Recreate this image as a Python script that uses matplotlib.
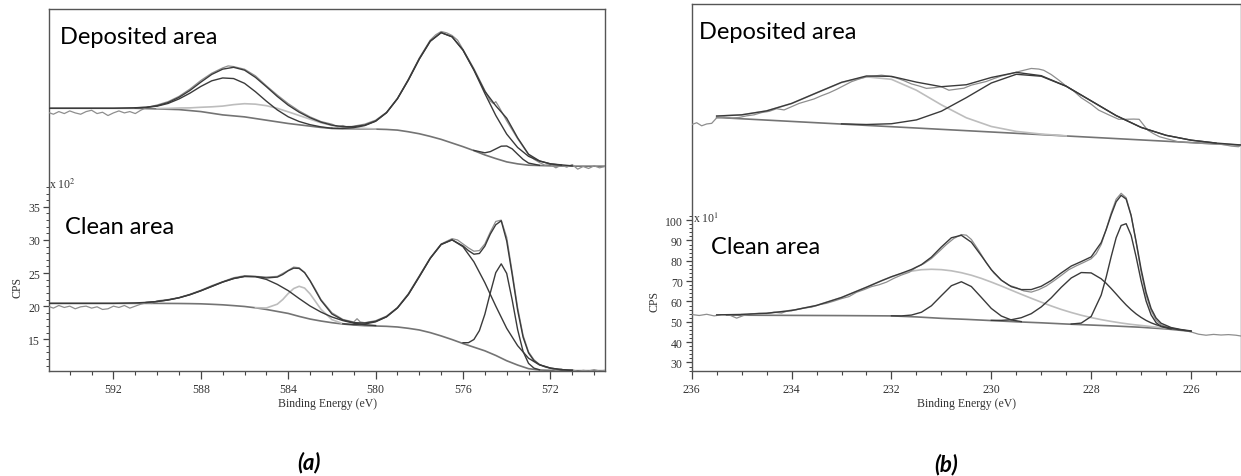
import matplotlib.pyplot as plt
from matplotlib.ticker import FixedLocator, NullFormatter

plt.rcParams['font.family'] = ['Liberation Serif', 'DejaVu Serif']
plt.rcParams['mathtext.fontset'] = 'stix'

# ---------------- panel (a): Ti 2p-like region, CPS x 10^2 ----------------
# deposited area (upper spectrum)
a_grid = [595, 594, 593, 592, 591, 590.5, 590, 589.5, 589, 588.5, 588, 587.5, 587, 586.5, 586,
          585.5, 585, 584.5, 584, 583.5, 583, 582.5, 582, 581.5, 581, 580.5, 580, 579.5, 579, 578.5,
          578, 577.5, 577, 576.5, 576, 575.5, 575, 574.5, 574, 573.5, 573, 572.5, 572, 571, 570, 569.5]
a_dep_bg = [49.9, 49.9, 49.9, 49.9, 49.9, 49.85, 49.8, 49.75, 49.7, 49.55, 49.4, 49.15, 48.9, 48.75, 48.6,
            48.35, 48.1, 47.85, 47.6, 47.4, 47.2, 47.0, 46.85, 46.8, 46.8, 46.78, 46.75, 46.7, 46.6, 46.35,
            46.05, 45.65, 45.2, 44.65, 44.1, 43.5, 42.85, 42.3, 41.8, 41.5, 41.3, 41.25, 41.2, 41.15, 41.15, 41.15]
a_dep_env = [49.9, 49.9, 49.9, 49.9, 49.98, 50.06, 50.28, 50.76, 51.55, 52.59, 53.85, 55.02, 55.81, 56.09, 55.66,
             54.57, 53.16, 51.69, 50.37, 49.31, 48.47, 47.80, 47.35, 47.12, 47.13, 47.35, 47.97, 49.23, 51.35, 54.18,
             57.35, 60.03, 61.33, 60.70, 58.69, 55.70, 52.46, 50.28, 48.40, 45.44, 42.96, 41.95, 41.50, 41.2]
a_dep_p1_x = [591, 590.5, 590, 589.5, 589, 588.5, 588, 587.5, 587, 586.5, 586, 585.5, 585, 584.5, 584,
              583.5, 583, 582.5, 582]
a_dep_p1 = [49.97, 50.03, 50.22, 50.63, 51.31, 52.18, 53.2, 54.05, 54.48, 54.39, 53.67, 52.4, 50.97, 49.65, 48.61,
            47.9, 47.42, 47.09, 46.88]
a_dep_p2_x = [590, 589.5, 589, 588.5, 588, 587.5, 587, 586.5, 586, 585.5, 585, 584.5, 584, 583.5, 583,
              582.5, 582, 581.5, 581, 580.5, 580]
a_dep_p2 = [49.86, 49.88, 49.94, 49.96, 50.05, 50.12, 50.23, 50.45, 50.59, 50.52, 50.29, 49.89, 49.36, 48.81, 48.25,
            47.71, 47.3, 47.06, 46.95, 46.85, 46.78]
a_dep_p3_x = [582, 581.5, 581, 580.5, 580, 579.5, 579, 578.5, 578, 577.5, 577, 576.5, 576, 575.5, 575,
              574.5, 574, 573.5, 573, 572.5, 572, 571.5]
a_dep_p3 = [46.87, 46.86, 46.98, 47.28, 47.94, 49.23, 51.35, 54.18, 57.35, 60.03, 61.33, 60.70, 58.69, 55.67, 52.14,
            48.82, 46.00, 43.98, 42.64, 41.92, 41.50, 41.30]
a_dep_p4_x = [575.5, 575, 574.75, 574.5, 574.25, 574, 573.75, 573.5, 573.25, 573, 572.5]
a_dep_p4 = [43.53, 43.17, 43.35, 43.76, 44.17, 44.2, 43.77, 42.96, 42.18, 41.62, 41.28]
a_dep_raw_x = [595.0, 594.75, 594.5, 594.25, 594.0, 593.75, 593.5, 593.25, 593.0, 592.75, 592.5, 592.25, 592.0,
               591.75, 591.5, 591.25, 591.0, 590.75, 590.5, 590.25, 590.0, 589.5, 589.0, 588.5, 588.0, 587.5,
               587.0, 586.75, 586.5, 586.25, 586.0, 585.5, 585.0, 584.5, 584.0, 583.5, 583.0, 582.5, 582.0,
               581.75, 581.5, 581.25, 581.0, 580.5, 580.0, 579.5, 579.0, 578.5, 578.0, 577.5, 577.25, 577.0,
               576.75, 576.5, 576.25, 576.0, 575.5, 575.0, 574.75, 574.6, 574.5, 574.35, 574.0, 573.5, 573.0,
               572.75, 572.5, 572.25, 572.0, 571.75, 571.5, 571.25, 571.0, 570.75, 570.5, 570.25, 570.0,
               569.75, 569.5]
a_dep_raw = [49.3, 49.0, 49.4, 49.1, 49.5, 49.2, 49.0, 49.4, 49.6, 49.1, 49.3, 48.8, 49.2,
             49.5, 49.2, 49.4, 49.1, 49.6, 50.0, 50.2, 50.4, 50.9, 51.7, 52.8, 54.1, 55.2,
             56.0, 56.3, 56.2, 56.0, 55.8, 54.8, 53.3, 51.9, 50.6, 49.5, 48.6, 47.9, 47.5,
             47.1, 47.3, 47.0, 47.2, 47.5, 48.1, 49.3, 51.4, 54.3, 57.5, 60.2, 61.0, 61.5,
             61.3, 60.9, 60.2, 58.8, 55.9, 52.6, 51.0, 50.6, 50.9, 50.1, 48.0, 45.3, 42.9,
             42.2, 41.7, 41.3, 41.4, 40.9, 41.3, 41.0, 41.4, 40.7, 41.1, 40.8, 41.2,
             40.9, 41.1]

# clean area (lower spectrum)
a_cln_bg = [20.42, 20.42, 20.42, 20.42, 20.42, 20.42, 20.42, 20.41, 20.4, 20.38, 20.35, 20.28, 20.2, 20.08, 19.95,
            19.75, 19.5, 19.2, 18.9, 18.45, 18.05, 17.75, 17.5, 17.3, 17.15, 17.05, 17.0, 16.95, 16.85, 16.65,
            16.4, 16.0, 15.5, 14.95, 14.35, 13.8, 13.25, 12.55, 11.75, 11.1, 10.55, 10.35, 10.3, 10.25, 10.25, 10.25]
a_cln_env_x = [595, 594, 593, 592, 591, 590.5, 590, 589.5, 589, 588.5, 588, 587.5, 587, 586.5, 586,
               585.5, 585, 584.5, 584.25, 584, 583.75, 583.5, 583.25, 583, 582.75, 582.5, 582, 581.5, 581, 580.5,
               580, 579.5, 579, 578.5, 578, 577.5, 577, 576.5, 576, 575.75, 575.5, 575.25, 575, 574.75, 574.5,
               574.25, 574, 573.75, 573.5, 573.25, 573, 572.75, 572.5, 572, 571.5, 571]
a_cln_env = [20.42, 20.42, 20.42, 20.42, 20.49, 20.57, 20.70, 20.93, 21.26, 21.73, 22.32, 22.98, 23.64, 24.17, 24.49,
             24.47, 24.26, 24.39, 24.78, 25.35, 25.74, 25.70, 25.06, 23.82, 22.34, 20.87, 18.82, 17.91, 17.51, 17.45,
             17.70, 18.41, 19.73, 21.77, 24.46, 27.22, 29.32, 30.02, 29.10, 28.39, 27.85, 27.96, 29.07, 30.89, 32.3,
             32.9, 29.85, 24.80, 19.40, 15.32, 12.93, 11.75, 11.16, 10.64, 10.41, 10.30]
a_cln_p1_x = [590.5, 590, 589.5, 589, 588.5, 588, 587.5, 587, 586.5, 586, 585.5, 585, 584.5, 584, 583.5,
              583, 582.5, 582, 581.5, 581, 580.5, 580]
a_cln_p1 = [20.57, 20.70, 20.93, 21.26, 21.73, 22.32, 22.98, 23.64, 24.17, 24.49, 24.45, 24.04, 23.29, 22.34, 21.15,
            20.02, 19.10, 18.36, 17.82, 17.43, 17.20, 17.07]
a_cln_p2_x = [585.5, 585, 584.5, 584.25, 584, 583.75, 583.5, 583.25, 583, 582.75, 582.5, 582, 581.5]
a_cln_p2 = [19.77, 19.72, 20.30, 21.0, 21.91, 22.66, 23.0, 22.73, 21.85, 20.69, 19.52, 17.96, 17.36]
a_cln_p3_x = [581.5, 581, 580.5, 580, 579.5, 579, 578.5, 578, 577.5, 577, 576.5, 576, 575.5, 575, 574.5,
              574, 573.5, 573, 572.5, 572, 571.5, 571]
a_cln_p3 = [17.33, 17.23, 17.30, 17.63, 18.38, 19.73, 21.77, 24.46, 27.22, 29.32, 30.02, 28.98, 26.69, 23.55, 20.01,
            16.65, 14.03, 12.13, 11.12, 10.64, 10.41, 10.30]
a_cln_p4_x = [576, 575.75, 575.5, 575.25, 575, 574.75, 574.5, 574.25, 574, 573.75, 573.5, 573.25, 573, 572.75, 572.5]
a_cln_p4 = [14.47, 14.48, 14.96, 16.30, 18.77, 22.01, 25.06, 26.39, 24.95, 20.96, 16.47, 13.15, 11.35, 10.63, 10.39]
a_cln_raw_x = [595.0, 594.75, 594.5, 594.25, 594.0, 593.75, 593.5, 593.25, 593.0, 592.75, 592.5, 592.25, 592.0,
               591.75, 591.5, 591.25, 591.0, 590.75, 590.5, 590.25, 590.0, 589.5, 589.0, 588.5, 588.0, 587.5,
               587.0, 586.5, 586.0, 585.5, 585.0, 584.5, 584.0, 583.75, 583.5, 583.25, 583.0, 582.75, 582.5,
               582.0, 581.5, 581.25, 581.0, 580.85, 580.7, 580.5, 580.0, 579.5, 579.0, 578.5, 578.0, 577.5,
               577.0, 576.5, 576.25, 576.0, 575.75, 575.5, 575.25, 575.0, 574.75, 574.5, 574.25, 574.0, 573.75,
               573.5, 573.25, 573.0, 572.75, 572.5, 572.25, 572.0, 571.75, 571.5, 571.25, 571.0, 570.75, 570.5,
               570.25, 570.0, 569.75, 569.5]
a_cln_raw = [20.0, 19.7, 20.1, 19.8, 20.0, 19.6, 19.9, 20.0, 19.7, 19.9, 19.5, 19.6, 20.0,
             19.8, 20.1, 19.7, 20.0, 20.3, 20.5, 20.4, 20.8, 21.0, 21.3, 21.8, 22.4, 23.1,
             23.7, 24.3, 24.6, 24.5, 24.4, 24.5, 25.4, 25.9, 25.8, 25.1, 23.9, 22.5, 21.0,
             19.0, 18.0, 17.8, 17.6, 18.1, 17.6, 17.5, 17.8, 18.5, 19.8, 21.9, 24.6, 27.3,
             29.4, 30.2, 30.0, 29.4, 28.8, 28.3, 28.4, 29.4, 31.2, 32.8, 33.0, 30.4, 25.2,
             19.8, 15.6, 13.1, 11.9, 11.2, 10.8, 10.6, 10.3, 10.5, 10.2, 10.4, 10.1, 10.3,
             10.2, 10.4, 10.2, 10.3]

# ---------------- panel (b): CPS x 10^1 ----------------
b_dep_bg_x = [235.5, 225.0]
b_dep_bg = [150.5, 136.85]
b_dep_env_x = [235.5, 235, 234.5, 234, 233.5, 233, 232.5, 232, 231.5, 231, 230.5, 230, 229.5, 229, 228.5,
               228, 227.5, 227, 226.5, 226, 225.5, 225]
b_dep_env = [151.19, 151.78, 153.73, 157.38, 162.60, 167.77, 170.90, 170.71, 167.88, 165.63, 166.59, 170.16,
             172.67, 171.04, 165.88, 158.64, 151.41, 145.61, 141.72, 139.33, 137.91, 136.97]
b_dep_p1_x = [235.5, 235, 234.5, 234, 233.5, 233, 232.5, 232, 231.5, 231, 230.5, 230, 229.5, 229, 228.5]
b_dep_p1 = [151.19, 151.78, 153.73, 157.38, 162.58, 167.67, 170.47, 169.25, 163.89, 156.70, 150.34, 146.06,
            143.64, 142.32, 141.46]
b_dep_p2_x = [233, 232.5, 232, 231.5, 231, 230.5, 230, 229.5, 229, 228.5, 228, 227.5, 227, 226.5, 226, 225.5]
b_dep_p2 = [147.35, 147.03, 147.41, 149.29, 153.58, 160.25, 167.45, 171.73, 170.77, 165.82, 158.64, 151.41,
            145.61, 141.72, 139.33, 137.91]
b_dep_raw_x = [236.0, 235.9, 235.8, 235.7, 235.6, 235.5, 235.35, 235.2, 235.05, 234.9, 234.75, 234.6, 234.45,
               234.3, 234.15, 234.0, 233.85, 233.7, 233.55, 233.4, 233.25, 233.1, 232.95, 232.8, 232.65, 232.5,
               232.35, 232.2, 232.05, 231.9, 231.75, 231.6, 231.45, 231.3, 231.15, 231.0, 230.85, 230.7, 230.55,
               230.4, 230.25, 230.1, 229.95, 229.8, 229.6, 229.4, 229.2, 229.05, 228.95, 228.8, 228.65, 228.5,
               228.35, 228.2, 228.0, 227.85, 227.65, 227.45, 227.3, 227.15, 227.04, 226.87, 226.75, 226.63,
               226.45, 226.25, 226.05, 225.85, 225.65, 225.43, 225.3, 225.19, 225.05, 224.95]
b_dep_raw = [147.0, 147.9, 146.4, 147.3, 147.6, 150.3, 150.6, 150.2, 150.5, 151.3, 151.8, 152.9, 153.5,
             154.8, 154.2, 155.8, 157.4, 158.5, 159.6, 161.2, 162.6, 164.3, 166.2, 168.1, 169.4, 170.5,
             170.9, 171.3, 170.8, 169.9, 168.6, 167.0, 166.0, 164.8, 165.1, 165.6, 163.9, 164.4, 164.9,
             166.4, 167.3, 168.2, 169.6, 170.9, 172.1, 173.4, 174.6, 174.3, 173.7, 171.6, 168.9, 165.9,
             163.5, 160.2, 157.0, 154.1, 151.8, 149.6, 149.6, 149.7, 149.6, 144.3, 142.5, 141.0,
             139.8, 138.5, 138.2, 137.8, 137.6, 137.4, 136.9, 136.4, 136.1, 137.5]

b_cln_bg_x = [235.3, 235, 234, 233, 232, 231.5, 231, 230.5, 230, 229.5, 229, 228.5, 228, 227.5, 227, 226.5, 226]
b_cln_bg = [53.3, 53.25, 53.15, 53.05, 52.9, 52.4, 51.7, 51.2, 50.6, 50.0, 49.5, 48.9, 48.4, 47.9, 47.3, 46.5, 45.3]
b_cln_env_x = [235.5, 235, 234.5, 234, 233.5, 233, 232.5, 232.2, 232.0, 231.8, 231.6, 231.4, 231.2, 231.0, 230.8,
               230.6, 230.4, 230.2, 230.0, 229.8, 229.6, 229.4, 229.2, 229.0, 228.8, 228.6, 228.4, 228.2, 228.0,
               227.8, 227.7, 227.6, 227.5, 227.4, 227.3, 227.2, 227.1, 227.0, 226.9, 226.8, 226.7, 226.6, 226.4,
               226.2, 226.0]
b_cln_env = [53.42, 53.62, 54.2, 55.53, 58.04, 61.96, 67.01, 70.18, 72.16, 73.88, 75.72, 78.11, 81.80, 86.81, 91.32,
             92.55, 89.15, 82.51, 75.62, 70.46, 67.28, 65.84, 65.85, 67.47, 70.31, 74.03, 77.41, 79.61, 81.94,
             88.94, 95.31, 102.6, 109.03, 112.18, 110.37, 102.17, 89.43, 75.84, 64.44, 56.52, 51.82, 49.29, 47.18,
             46.19, 45.51]
b_cln_p1_x = [235, 234.5, 234, 233.5, 233, 232.5, 232.2, 232.0, 231.8, 231.6, 231.4, 231.2, 231.0, 230.8, 230.6,
              230.4, 230.2, 230.0, 229.8, 229.6, 229.4, 229.2, 229.0, 228.8, 228.6, 228.4, 228.2, 228.0, 227.8,
              227.6, 227.4, 227.2, 227.0, 226.8, 226.6, 226.4]
b_cln_p1 = [53.62, 54.2, 55.53, 58.04, 61.96, 67.01, 70.18, 72.12, 73.68, 74.91, 75.62, 75.83, 75.65, 75.08, 74.15,
            72.91, 71.35, 69.53, 67.61, 65.56, 63.53, 61.56, 59.65, 57.79, 56.08, 54.58, 53.23, 52.07, 51.06,
            50.19, 49.41, 48.73, 48.2, 47.65, 47.16, 46.62]
b_cln_p2_x = [232.0, 231.8, 231.6, 231.4, 231.2, 231.0, 230.8, 230.6, 230.4, 230.2, 230.0, 229.8, 229.6, 229.4]
b_cln_p2 = [52.94, 52.9, 53.31, 54.69, 57.87, 62.86, 67.74, 69.7, 67.34, 62.01, 56.57, 52.84, 50.91, 50.1]
b_cln_p3_x = [230.0, 229.8, 229.6, 229.4, 229.2, 229.0, 228.8, 228.6, 228.4, 228.2, 228.0, 227.8, 227.7, 227.6,
              227.5, 227.4, 227.3, 227.2, 227.1, 227.0, 226.9, 226.8, 226.7, 226.6, 226.4, 226.2, 226.0]
b_cln_p3 = [50.72, 50.71, 51.01, 52.01, 53.99, 57.32, 61.77, 66.95, 71.54, 74.22, 74.04, 71.15, 68.93, 66.38,
            63.67, 60.9, 58.29, 55.94, 53.88, 52.14, 50.67, 49.49, 48.56, 47.84, 46.77, 45.97, 45.36]
b_cln_p4_x = [228.4, 228.2, 228.0, 227.8, 227.7, 227.6, 227.5, 227.4, 227.3, 227.2, 227.1, 227.0, 226.9, 226.8,
              226.7, 226.6, 226.4]
b_cln_p4 = [48.89, 49.36, 52.63, 63.13, 71.96, 82.03, 91.35, 97.37, 98.25, 92.5, 81.9, 70.1, 60.15, 53.38,
            49.56, 47.69, 46.39]
b_cln_raw_x = [236.0, 235.85, 235.7, 235.55, 235.4, 235.25, 235.1, 234.95, 234.8, 234.65, 234.5, 234.35, 234.2,
               234.05, 233.9, 233.75, 233.6, 233.45, 233.3, 233.15, 233.0, 232.85, 232.7, 232.55, 232.4, 232.25,
               232.1, 231.95, 231.8, 231.65, 231.5, 231.35, 231.2, 231.05, 230.9, 230.75, 230.6, 230.5, 230.4,
               230.25, 230.1, 229.95, 229.8, 229.65, 229.5, 229.35, 229.2, 229.05, 228.9, 228.75, 228.6, 228.45,
               228.3, 228.15, 228.0, 227.9, 227.8, 227.7, 227.6, 227.5, 227.4, 227.3, 227.2, 227.1, 227.0, 226.9,
               226.8, 226.7, 226.6, 226.45, 226.3, 226.15, 226.0, 225.85, 225.7, 225.55, 225.4, 225.25, 225.1,
               225.0]
b_cln_raw = [53.6, 53.1, 53.7, 52.9, 53.5, 53.4, 51.8, 53.2, 53.9, 54.2, 54.0, 54.7, 54.3,
             55.6, 56.0, 56.8, 57.2, 58.4, 59.1, 60.2, 61.4, 62.4, 64.5, 65.8, 67.3, 68.2,
             69.5, 71.4, 73.0, 74.3, 76.8, 78.6, 81.1, 84.5, 88.0, 91.0, 92.9, 92.6, 90.5,
             85.0, 79.0, 74.0, 70.5, 68.0, 66.8, 65.2, 64.6, 65.8, 67.6, 70.1, 72.8, 75.6,
             77.5, 79.2, 81.0, 83.5, 88.0, 95.5, 103.5, 110.3, 113.2, 111.0, 102.5, 89.0, 74.5, 63.0,
             55.5, 50.8, 48.5, 47.2, 46.5, 45.8, 45.0, 43.9, 43.4, 43.8, 43.5, 43.7, 43.4,
             43.0]

# ---------------- drawing ----------------
DARK = '#3a3a3a'
RAW = '#8e8e8e'
LIGHT = '#bdbdbd'
BG = '#747474'
LABEL_FONT = ['Lato', 'DejaVu Sans']

fig = plt.figure(figsize=(12.41, 4.77), dpi=100)
fig.patch.set_facecolor('white')
ax1 = fig.add_axes([49 / 1241, 105 / 477, 556 / 1241, 362 / 477])
ax2 = fig.add_axes([691.7 / 1241, 105 / 477, 549.3 / 1241, 367 / 477])


def style(ax, xmaj, xmin, ymaj, ymin):
    for s in ax.spines.values():
        s.set_color('#555555')
        s.set_linewidth(1.0)
    ax.xaxis.set_major_locator(FixedLocator(xmaj))
    ax.xaxis.set_minor_locator(FixedLocator(xmin))
    ax.yaxis.set_major_locator(FixedLocator(ymaj))
    ax.yaxis.set_minor_locator(FixedLocator(ymin))
    ax.xaxis.set_minor_formatter(NullFormatter())
    ax.tick_params(axis='x', which='major', direction='out', length=6, width=0.9, color='#444444',
                   labelsize=8.5, labelcolor='#333333', pad=3)
    ax.tick_params(axis='x', which='minor', direction='out', length=3, width=0.8, color='#444444')
    ax.tick_params(axis='y', which='major', direction='out', length=4.5, width=0.9, color='#444444',
                   labelsize=8.5, labelcolor='#333333', pad=2)
    ax.tick_params(axis='y', which='minor', direction='out', length=2.2, width=0.7, color='#444444')
    ax.set_xlabel('Binding Energy (eV)', fontsize=8.5, color='#333333', labelpad=1)


# panel (a)
ax = ax1
ax.plot(a_grid, a_dep_bg, color=BG, lw=1.2, zorder=2)
ax.plot(a_dep_p2_x, a_dep_p2, color=LIGHT, lw=1.2, zorder=2)
ax.plot(a_dep_raw_x, a_dep_raw, color=RAW, lw=0.9, zorder=3)
ax.plot(a_grid[:44], a_dep_env, color=DARK, lw=1.0, zorder=4)
ax.plot(a_dep_p1_x, a_dep_p1, color=DARK, lw=1.0, zorder=4)
ax.plot(a_dep_p3_x, a_dep_p3, color=DARK, lw=1.0, zorder=4)
ax.plot(a_dep_p4_x, a_dep_p4, color=DARK, lw=1.0, zorder=4)

ax.plot(a_grid, a_cln_bg, color=BG, lw=1.2, zorder=2)
ax.plot(a_cln_p2_x, a_cln_p2, color=LIGHT, lw=1.2, zorder=2)
ax.plot(a_cln_raw_x, a_cln_raw, color=RAW, lw=0.9, zorder=3)
ax.plot(a_cln_env_x, a_cln_env, color=DARK, lw=1.0, zorder=4)
ax.plot(a_cln_p1_x, a_cln_p1, color=DARK, lw=1.0, zorder=4)
ax.plot(a_cln_p3_x, a_cln_p3, color=DARK, lw=1.0, zorder=4)
ax.plot(a_cln_p4_x, a_cln_p4, color=DARK, lw=1.0, zorder=4)

ax.set_xlim(594.95, 569.5)
ax.set_ylim(10.2, 64.9)
style(ax, [592, 588, 584, 580, 576, 572], [v for v in range(570, 595) if v % 4 != 0],
      [15, 20, 25, 30, 35], [v for v in range(11, 39) if v % 5 != 0])
ax.text(594.45, 60.8, 'Deposited area', family=LABEL_FONT, fontsize=17, ha='left', va='center')
ax.text(594.2, 32.1, 'Clean area', family=LABEL_FONT, fontsize=17, ha='left', va='center')
ax.text(-0.056, 22.9, 'CPS', transform=ax.get_yaxis_transform(), rotation=90, fontsize=8.5,
        color='#333333', ha='center', va='center')
ax.text(0.0, 38.5, r'x 10$^{2}$', transform=ax.get_yaxis_transform(), fontsize=8.5,
        color='#333333', ha='left', va='center')

# panel (b)
ax = ax2
ax.plot(b_dep_bg_x, b_dep_bg, color=BG, lw=1.2, zorder=2)
ax.plot(b_dep_p1_x, b_dep_p1, color=LIGHT, lw=1.2, zorder=2)
ax.plot(b_dep_raw_x, b_dep_raw, color=RAW, lw=0.9, zorder=3)
ax.plot(b_dep_env_x, b_dep_env, color=DARK, lw=1.0, zorder=4)
ax.plot(b_dep_p2_x, b_dep_p2, color=DARK, lw=1.0, zorder=4)

ax.plot(b_cln_bg_x, b_cln_bg, color=BG, lw=1.2, zorder=2)
ax.plot(b_cln_p1_x, b_cln_p1, color=LIGHT, lw=1.2, zorder=2)
ax.plot(b_cln_raw_x, b_cln_raw, color=RAW, lw=0.9, zorder=3)
ax.plot(b_cln_env_x, b_cln_env, color=DARK, lw=1.0, zorder=4)
ax.plot(b_cln_p2_x, b_cln_p2, color=DARK, lw=1.0, zorder=4)
ax.plot(b_cln_p3_x, b_cln_p3, color=DARK, lw=1.0, zorder=4)
ax.plot(b_cln_p4_x, b_cln_p4, color=DARK, lw=1.0, zorder=4)

ax.set_xlim(236.0, 225.0)
ax.set_ylim(25.8, 206.3)
style(ax, [236, 234, 232, 230, 228, 226], [225 + 0.5 * i for i in range(1, 22) if i % 4 != 2],
      [30, 40, 50, 60, 70, 80, 90, 100], [v for v in range(26, 103, 2) if v % 10 != 0])
ax.text(235.86, 192.8, 'Deposited area', family=LABEL_FONT, fontsize=17, ha='left', va='center')
ax.text(235.62, 86.9, 'Clean area', family=LABEL_FONT, fontsize=17, ha='left', va='center')
ax.text(-0.068, 60.6, 'CPS', transform=ax.get_yaxis_transform(), rotation=90, fontsize=8.5,
        color='#333333', ha='center', va='center')
ax.text(0.003, 101, r'x 10$^{1}$', transform=ax.get_yaxis_transform(), fontsize=8.5,
        color='#333333', ha='left', va='center')

fig.text(309 / 1241, 1 - 463 / 477, '(a)', family=LABEL_FONT, fontsize=16, weight='bold',
         style='italic', ha='center', va='center')
fig.text(946.5 / 1241, 1 - 465 / 477, '(b)', family=LABEL_FONT, fontsize=16, weight='bold',
         style='italic', ha='center', va='center')

fig.savefig('out.png', dpi=100, facecolor='white')
